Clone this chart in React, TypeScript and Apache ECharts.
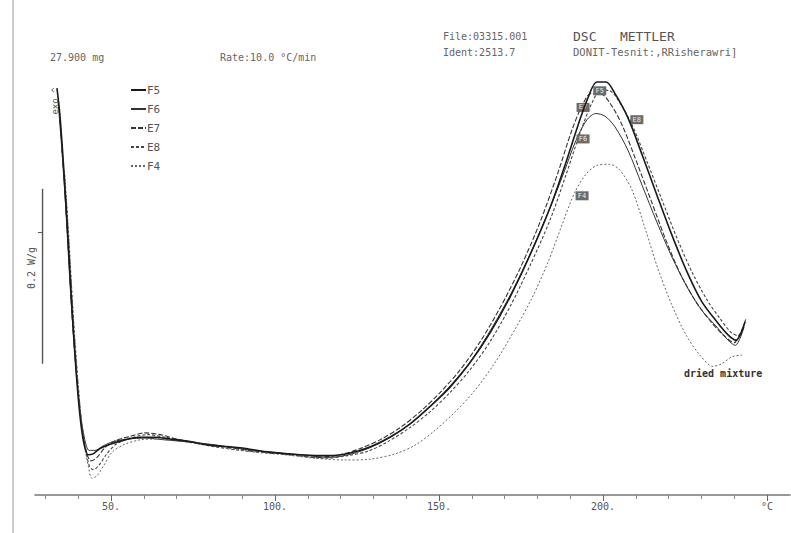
import React, { useEffect, useRef } from "react";
import * as echarts from "echarts";

// Temperature (°C) vs heat flow (mW/g, exo up, arbitrary baseline)
const F5: number[][] = [
  [33.5, 465], [34.4, 434], [35.6, 371], [36.9, 291], [38.1, 211], [39.3, 143], [40.5, 91], [41.7, 59],
  [43.0, 46], [44.5, 47], [46.6, 53], [49.7, 58], [54.2, 63], [58.8, 66], [63.4, 66], [68.0, 64],
  [74.1, 61], [80.2, 57], [89.3, 54], [98.4, 49], [107.6, 46], [116.7, 45], [122.8, 48], [128.9, 55],
  [135.0, 66], [141.1, 81], [147.2, 101], [153.3, 123], [159.4, 151], [165.5, 185], [171.6, 226],
  [177.7, 274], [183.8, 328], [188.4, 377], [192.4, 423], [195.4, 454], [198.1, 472], [200.9, 472],
  [203.6, 459], [207.6, 431], [211.9, 389], [216.4, 343], [221.0, 297], [225.6, 255], [230.1, 221],
  [234.7, 198], [238.1, 183], [240.5, 177], [243.3, 198],
];
const F6: number[][] = [
  [33.8, 451], [35.0, 394], [36.3, 320], [37.5, 240], [39.0, 160], [40.5, 97], [42.0, 63], [43.3, 51],
  [45.1, 51], [47.5, 56], [50.6, 61], [55.2, 64], [60.3, 65], [66.4, 63], [72.5, 61], [80.2, 58],
  [89.3, 53], [98.4, 49], [107.6, 46], [116.7, 43], [123.4, 47], [129.5, 55], [135.6, 67], [141.7, 83],
  [147.8, 103], [153.9, 127], [160.0, 155], [166.1, 191], [172.2, 232], [178.3, 280], [183.8, 328],
  [188.1, 369], [191.7, 405], [195.1, 429], [197.8, 436], [200.6, 433], [203.6, 421], [207.6, 394],
  [211.9, 354], [216.4, 312], [221.0, 272], [225.6, 238], [230.1, 211], [234.7, 192], [238.1, 177],
  [240.3, 171], [243.0, 192],
];
const E7: number[][] = [
  [34.4, 429], [35.6, 366], [36.9, 286], [38.1, 206], [39.6, 131], [41.1, 77], [42.7, 46], [43.9, 39],
  [45.7, 43], [48.1, 54], [51.2, 62], [55.8, 67], [60.3, 71], [64.9, 69], [71.0, 63], [77.1, 59],
  [84.7, 55], [93.9, 50], [103.0, 47], [112.2, 43], [119.8, 46], [125.9, 53], [132.0, 63], [138.1, 77],
  [144.2, 95], [150.3, 117], [156.4, 143], [162.5, 175], [168.6, 214], [174.7, 259], [180.8, 312],
  [186.3, 369], [190.5, 417], [193.6, 445], [196.3, 459], [199.1, 459], [202.1, 448], [205.8, 423],
  [210.0, 383], [214.6, 337], [219.2, 291], [223.8, 251], [228.3, 221], [232.9, 198], [236.9, 182],
  [239.9, 174], [243.0, 194],
];
const E8: number[][] = [
  [35.0, 394], [36.3, 337], [37.5, 263], [38.7, 189], [40.2, 114], [41.7, 63], [43.3, 34], [44.5, 29],
  [46.3, 34], [48.5, 46], [51.5, 58], [55.8, 65], [61.3, 69], [66.4, 66], [72.5, 62], [80.2, 56],
  [89.3, 51], [98.4, 48], [107.6, 45], [115.2, 42], [122.2, 45], [128.3, 50], [134.4, 61], [141.1, 77],
  [147.2, 95], [153.3, 117], [159.4, 143], [165.5, 175], [171.6, 215], [177.7, 262], [183.8, 314],
  [188.7, 366], [193.0, 414], [196.6, 448], [199.4, 463], [202.1, 462], [205.2, 448], [209.1, 421],
  [213.4, 381], [218.0, 337], [222.5, 294], [227.1, 255], [231.7, 223], [235.6, 202], [239.0, 186],
  [241.1, 182], [243.6, 202],
];
const F4: number[][] = [
  [35.9, 366], [37.2, 291], [38.4, 211], [39.9, 131], [41.4, 69], [43.0, 34], [44.2, 19], [45.7, 22],
  [47.8, 34], [50.3, 49], [54.2, 58], [58.8, 63], [64.3, 64], [70.4, 62], [77.1, 58], [84.7, 54],
  [93.9, 49], [103.0, 46], [112.2, 42], [121.3, 40], [129.0, 41], [136.6, 47], [142.7, 57], [148.8, 74],
  [154.9, 95], [161.0, 120], [167.0, 151], [173.1, 189], [178.3, 225], [183.2, 266], [187.5, 309],
  [191.4, 346], [195.1, 368], [198.4, 377], [202.1, 378], [205.2, 371], [208.8, 349], [212.8, 305],
  [216.7, 259], [221.0, 217], [225.3, 183], [229.5, 160], [233.5, 147], [236.2, 150], [239.3, 158],
  [242.4, 160],
];

const SERIES_NAMES = ["F5", "F6", "E7", "E8", "F4"];
const PEAK_LABELS: [string, number, number][] = [
  ["F5", 199.0, 462], ["E7", 193.9, 443], ["E8", 210.3, 429], ["F6", 193.9, 407], ["F4", 193.6, 342],
];
const MAJOR_TICKS = [50, 100, 150, 200, 250];
const MINOR_TICKS = [30, 40, 60, 70, 80, 90, 110, 120, 130, 140, 160, 170, 180, 190, 210, 220, 230, 240];
const SCALE_BAR = [[29.1, 150], [29.1, 350]];
const SCALE_TICK = [[27.7, 300], [29.1, 300]];

const X_MIN = 26.8;
const X_MAX = 257;
const Y_MAX = 565.8;
const MONO = "'DejaVu Sans Mono', 'Liberation Mono', monospace";

export default function App() {
  const ref = useRef<HTMLDivElement>(null);
  useEffect(() => {
    if (!ref.current) return;
    const chart = echarts.init(ref.current, undefined, { renderer: "svg" });
    const dataMap: Record<string, number[][]> = { F5, F6, E7, E8, F4 };
    const styles: Record<string, any> = {
      F5: { color: "#1a1a1a", width: 1.6, type: "solid" },
      F6: { color: "#333", width: 1, type: "solid" },
      E7: { color: "#333", width: 1.1, type: [5, 2] },
      E8: { color: "#444", width: 1.1, type: [3, 2] },
      F4: { color: "#666", width: 1, type: [2, 2] },
    };
    const series: any[] = SERIES_NAMES.map((n) => {
      const lbl = PEAK_LABELS.find((p) => p[0] === n)!;
      return {
        name: n,
        type: "line",
        data: dataMap[n],
        symbol: "none",
        smooth: 0.3,
        lineStyle: styles[n],
        itemStyle: { color: styles[n].color },
        z: n === "F5" ? 5 : 3,
        markPoint: {
          symbol: "rect",
          symbolSize: [13, 9],
          itemStyle: { color: "#6a6a6a" },
          label: { show: true, formatter: "{b}", color: "#eee", fontSize: 7, fontFamily: MONO },
          data: [{ name: lbl[0], coord: [lbl[1], lbl[2]] }],
        },
      };
    });
    series.push({
      type: "line", data: SCALE_BAR, symbol: "none",
      lineStyle: { color: "#555", width: 1.4 }, silent: true,
    });
    series.push({
      type: "line", data: SCALE_TICK, symbol: "none",
      lineStyle: { color: "#555", width: 1 }, silent: true,
    });

    chart.setOption({
      animation: false,
      backgroundColor: "#fff",
      grid: { left: 35, right: 1, top: 0, bottom: 38 },
      xAxis: [
        {
          type: "value", min: X_MIN, max: X_MAX,
          axisLine: { show: true, lineStyle: { color: "#777", width: 1.5 } },
          axisTick: { show: true, customValues: MAJOR_TICKS, length: 6, lineStyle: { color: "#666" } },
          axisLabel: {
            show: true, customValues: MAJOR_TICKS, margin: 6, fontSize: 10, color: "#555", fontFamily: MONO,
            formatter: (v: number) => (v === 250 ? "°C" : v + "."),
          },
          splitLine: { show: false },
        },
        {
          type: "value", min: X_MIN, max: X_MAX, position: "bottom",
          axisLine: { show: false },
          axisTick: { show: true, customValues: MINOR_TICKS, length: 4, lineStyle: { color: "#888" } },
          axisLabel: { show: false },
          splitLine: { show: false },
        },
      ],
      yAxis: { type: "value", min: 0, max: Y_MAX, show: false, splitLine: { show: false } },
      legend: {
        orient: "vertical", left: 125, top: 79, itemWidth: 15, itemHeight: 8, itemGap: 7,
        data: SERIES_NAMES,
        itemStyle: { opacity: 0 },
        textStyle: { fontSize: 11, color: "#555", fontFamily: MONO, lineHeight: 12, padding: [0, 0, 0, -4] },
        selectedMode: false,
      },
      series,
      graphic: [
        { type: "line", shape: { x1: 13, y1: 0, x2: 13, y2: 533 }, style: { stroke: "#bbb", lineWidth: 1.5 } },
        { type: "text", x: 50, y: 57, style: { text: "27.900 mg", fontSize: 10, fill: "#666", fontFamily: MONO, verticalAlign: "middle" } },
        { type: "text", x: 220, y: 57, style: { text: "Rate:10.0 °C/min", fontSize: 10, fill: "#666", fontFamily: MONO, verticalAlign: "middle" } },
        { type: "text", x: 443, y: 36, style: { text: "File:03315.001", fontSize: 10, fill: "#666", fontFamily: MONO, verticalAlign: "middle" } },
        { type: "text", x: 573, y: 36, style: { text: "DSC   METTLER", fontSize: 13, fill: "#555", fontFamily: MONO, verticalAlign: "middle" } },
        { type: "text", x: 443, y: 52, style: { text: "Ident:2513.7", fontSize: 10, fill: "#666", fontFamily: MONO, verticalAlign: "middle" } },
        { type: "text", x: 573, y: 52, style: { text: "DONIT-Tesnit:,RRisherawri]", fontSize: 10.5, fill: "#666", fontFamily: MONO, verticalAlign: "middle" } },
        { type: "text", x: 55, y: 101, rotation: Math.PI / 2, z: 10, style: { text: "exo ^", fontSize: 9, fill: "#555", fontFamily: MONO, align: "center", verticalAlign: "middle" } },
        { type: "text", x: 31, y: 268, rotation: Math.PI / 2, style: { text: "0.2 W/g", fontSize: 10, fill: "#555", fontFamily: MONO, align: "center", verticalAlign: "middle" } },
        { type: "text", x: 684, y: 373, style: { text: "dried mixture", fontSize: 10, fontWeight: "bold", fill: "#333", fontFamily: MONO, verticalAlign: "middle" } },
      ],
    });
    return () => chart.dispose();
  }, []);
  return <div ref={ref} style={{ width: 791, height: 533, position: "absolute", left: 0, top: 0 }} />;
}
